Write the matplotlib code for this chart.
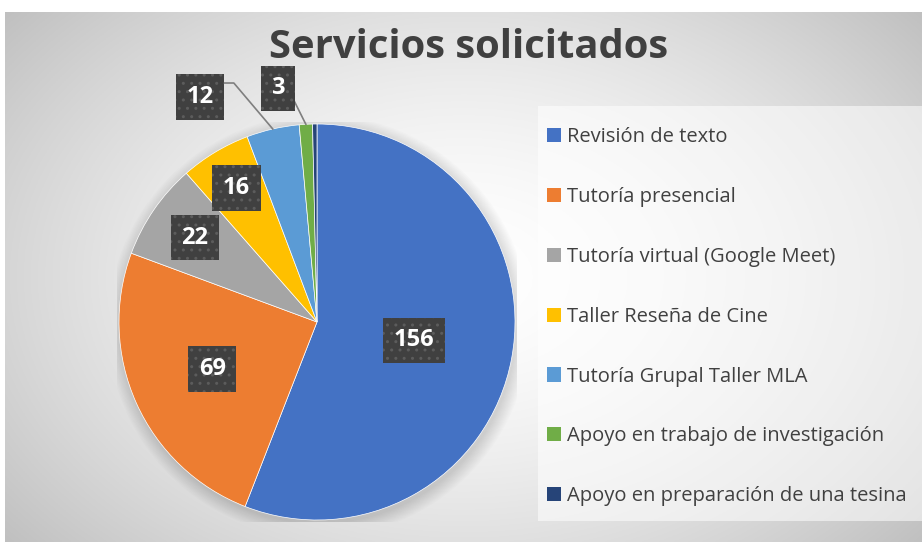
import matplotlib.pyplot as plt
import numpy as np
from matplotlib.patches import Circle, Rectangle

plt.rcParams['font.family'] = ['Open Sans', 'DejaVu Sans']

labels = ["Revisión de texto", "Tutoría presencial", "Tutoría virtual (Google Meet)",
          "Taller Reseña de Cine", "Tutoría Grupal Taller MLA",
          "Apoyo en trabajo de investigación", "Apoyo en preparación de una tesina"]
values = [156, 69, 22, 16, 12, 3, 1]
colors = ['#4472C4', '#ED7D31', '#A5A5A5', '#FFC000', '#5B9BD5', '#70AD47', '#264478']
# radial position of each inside label (fraction of radius), None = outside
label_r = [0.5, 0.58, 0.75, 0.79, None, None, None]

W, H = 922, 542
fig = plt.figure(figsize=(W / 100, H / 100), dpi=100)

# radial gradient background of the chart area
bg = fig.add_axes([5 / W, 0, 1 - 5 / W, (H - 12) / H])
yy, xx = np.mgrid[0:1:300j, 0:1:500j]
d = np.sqrt(((xx - 0.5) / 0.62) ** 2 + ((yy - 0.5) / 0.75) ** 2)
g = np.clip(1 - 0.23 * d ** 1.6, 0, 1)
bg.imshow(np.dstack([g, g, g]), aspect='auto', extent=[0, 1, 0, 1], origin='lower')
bg.set_axis_off()

fig.text(469 / W, 1 - 47 / H, "Servicios solicitados", ha='center', va='center',
         fontsize=28.8, fontweight='bold', color='#404040')

# pie
cx, cy, r = 317, 322, 198
half = 200
ax = fig.add_axes([(cx - half) / W, (H - cy - half) / H, 2 * half / W, 2 * half / H])
for k in range(12):
    ax.add_patch(Circle((0.01, -0.02), 1.0 + 0.006 * k, color='black', alpha=0.012, lw=0))
wedges, _ = ax.pie(values, colors=colors, startangle=90, counterclock=False, radius=1,
                   wedgeprops=dict(edgecolor='white', linewidth=0.5), frame=True)
ax.set_xlim(-half / r, half / r)
ax.set_ylim(-half / r, half / r)
ax.set_axis_off()

box = dict(boxstyle='square,pad=0.45', facecolor='#404040', edgecolor='#5c5c5c',
           hatch='..', linewidth=0)
for w, v, fr in zip(wedges, values, label_r):
    if fr is None:
        continue
    a = np.deg2rad((w.theta1 + w.theta2) / 2)
    ax.text(fr * np.cos(a), fr * np.sin(a), str(v), ha='center', va='center',
            fontsize=17, fontweight='bold', color='white', bbox=box)

# outside labels with leader lines: (index, label centre, line start, knee)
outside = [(4, (-0.59, 1.136), (-0.48, 1.207), (-0.42, 1.207)),
           (5, (-0.197, 1.18), (-0.125, 1.136), None)]
for i, pos, start, knee in outside:
    w = wedges[i]
    a = np.deg2rad((w.theta1 + w.theta2) / 2)
    tip = (np.cos(a), np.sin(a))
    pts = [start] + ([knee] if knee else []) + [tip]
    ax.plot([p[0] for p in pts], [p[1] for p in pts], color='#7f7f7f', lw=1.2,
            clip_on=False)
    ax.text(pos[0], pos[1], str(values[i]), ha='center', va='center',
            fontsize=17, fontweight='bold', color='white', bbox=box, clip_on=False)

# legend background panel
fig.patches.append(Rectangle((538 / W, 1 - 521 / H), (W - 538) / W, (521 - 106) / H,
                             transform=fig.transFigure, facecolor='white', alpha=0.55,
                             edgecolor='none', zorder=0.5))
leg = fig.legend(wedges, labels, loc='upper left', bbox_to_anchor=(538 / W, 1 - 118 / H),
                 frameon=False, fontsize=14.5, handlelength=0.7, handleheight=0.7,
                 handletextpad=0.3, labelspacing=1.98, borderpad=0.45, borderaxespad=0,
                 labelcolor='#404040')
for h in leg.legend_handles:
    h.set_edgecolor('none')

fig.savefig('out.png', dpi=100)
